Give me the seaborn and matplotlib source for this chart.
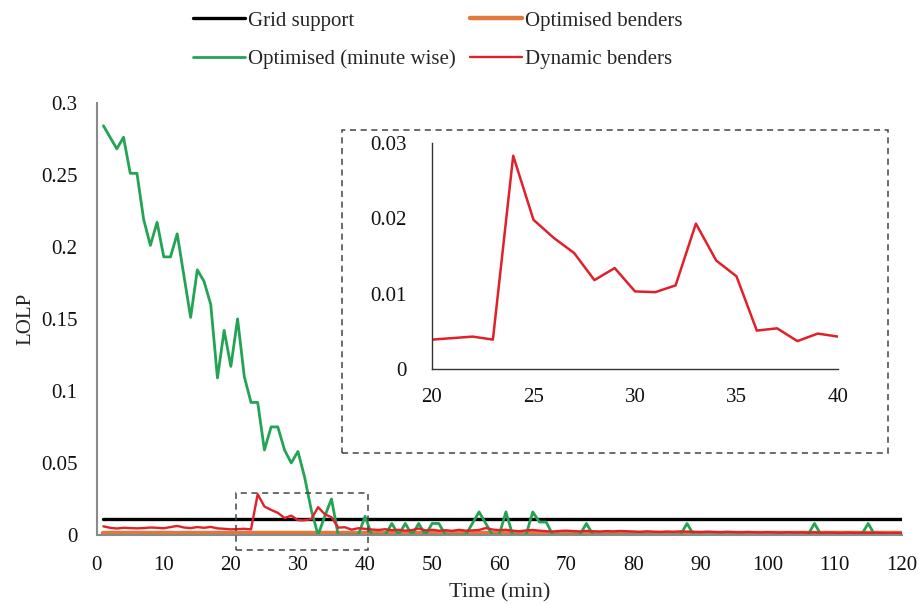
import numpy as np
import pandas as pd
import matplotlib
matplotlib.use("Agg")
import matplotlib.pyplot as plt
from matplotlib.patches import Rectangle
import seaborn as sns

# ---------------- data ----------------
minutes = list(range(1, 121))

grid_support = [0.011] * 120
optimised_benders = [0.0012] * 120

optimised_minute = [
    0.284, 0.276, 0.268, 0.276, 0.251, 0.251, 0.219, 0.201, 0.217, 0.193,
    0.193, 0.209, 0.180, 0.151, 0.184, 0.176, 0.160, 0.109, 0.142, 0.117,
    0.150, 0.110, 0.092, 0.092, 0.059, 0.075, 0.075, 0.059, 0.050, 0.058,
    0.040, 0.017, 0.000, 0.013, 0.025, 0.000, 0.000, 0.000, 0.000, 0.013,
    0.000, 0.000, 0.000, 0.008, 0.000, 0.008, 0.000, 0.008, 0.000, 0.008,
    0.008, 0.000, 0.000, 0.000, 0.000, 0.008, 0.016, 0.008, 0.000, 0.000,
    0.016, 0.000, 0.000, 0.000, 0.016, 0.009, 0.009, 0.000, 0.000, 0.000,
    0.000, 0.000, 0.008, 0.000, 0.000, 0.000, 0.000, 0.000, 0.000, 0.000,
    0.000, 0.000, 0.000, 0.000, 0.000, 0.000, 0.000, 0.008, 0.000, 0.000,
    0.000, 0.000, 0.000, 0.000, 0.000, 0.000, 0.000, 0.000, 0.000, 0.000,
    0.000, 0.000, 0.000, 0.000, 0.000, 0.000, 0.008, 0.000, 0.000, 0.000,
    0.000, 0.000, 0.000, 0.000, 0.008, 0.000, 0.000, 0.000, 0.000, 0.000,
]

dynamic_benders = [
    0.0060, 0.0050, 0.0045, 0.0050, 0.0048, 0.0046, 0.0048, 0.0052, 0.0050, 0.0047,
    0.0055, 0.0063, 0.0052, 0.0048, 0.0055, 0.0050, 0.0056, 0.0046, 0.0043, 0.0039,
    0.0041, 0.0043, 0.0039, 0.0283, 0.0198, 0.0174, 0.0154, 0.0118, 0.0134, 0.0103,
    0.0102, 0.0111, 0.0193, 0.0144, 0.0123, 0.0051, 0.0054, 0.0037, 0.0047, 0.0043,
    0.0038, 0.0035, 0.0040, 0.0033, 0.0036, 0.0030, 0.0034, 0.0045, 0.0032, 0.0036,
    0.0030, 0.0033, 0.0029, 0.0036, 0.0030, 0.0032, 0.0035, 0.0048, 0.0038, 0.0034,
    0.0036, 0.0030, 0.0026, 0.0032, 0.0035, 0.0030, 0.0026, 0.0024, 0.0028, 0.0030,
    0.0027, 0.0025, 0.0028, 0.0026, 0.0024, 0.0027, 0.0025, 0.0028, 0.0026, 0.0024,
    0.0022, 0.0025, 0.0023, 0.0021, 0.0024, 0.0022, 0.0025, 0.0023, 0.0022, 0.0020,
    0.0023, 0.0021, 0.0019, 0.0022, 0.0020, 0.0018, 0.0021, 0.0019, 0.0017, 0.0020,
    0.0018, 0.0016, 0.0019, 0.0017, 0.0018, 0.0016, 0.0018, 0.0015, 0.0017, 0.0016,
    0.0014, 0.0017, 0.0015, 0.0016, 0.0014, 0.0016, 0.0015, 0.0013, 0.0015, 0.0014,
]

series_names = ["Grid support", "Optimised benders", "Optimised (minute wise)", "Dynamic benders"]
x_ticks = [0, 10, 20, 30, 40, 50, 60, 70, 80, 90, 100, 110, 120]
y_ticks = [0, 0.05, 0.1, 0.15, 0.2, 0.25, 0.3]
y_tick_labels = ["0", "0.05", "0.1", "0.15", "0.2", "0.25", "0.3"]
inset_x_ticks = [20, 25, 30, 35, 40]
inset_y_ticks = [0, 0.01, 0.02, 0.03]
inset_y_labels = ["0", "0.01", "0.02", "0.03"]

colors = {
    "Grid support": "#000000",
    "Optimised benders": "#E2793A",
    "Optimised (minute wise)": "#23A455",
    "Dynamic benders": "#E0202A",
}
widths = {
    "Grid support": 2.4,
    "Optimised benders": 3.2,
    "Optimised (minute wise)": 2.0,
    "Dynamic benders": 1.7,
}

df = pd.DataFrame({
    "Time": minutes * 4,
    "LOLP": grid_support + optimised_benders + optimised_minute + dynamic_benders,
    "Series": sum([[n] * 120 for n in series_names], []),
})

# ---------------- style ----------------
sns.set_theme(style="white")
plt.rcParams["font.family"] = ["Liberation Serif", "DejaVu Serif"]

fig = plt.figure(figsize=(9.19, 6.05), dpi=100)
ax = fig.add_axes([96.7 / 919, 1 - 535 / 605, (901.7 - 96.7) / 919, (535 - 102.7) / 605])

for name in series_names:
    sub = df[df["Series"] == name]
    sns.lineplot(data=sub, x="Time", y="LOLP", ax=ax, color=colors[name],
                 linewidth=widths[name], label=name, estimator=None, sort=False)

ax.set_xlim(0, 120)
ax.set_ylim(0, 0.3)
ax.set_xticks(x_ticks)
ax.set_xticklabels([str(t) for t in x_ticks])
ax.set_yticks(y_ticks)
ax.set_yticklabels(y_tick_labels)
ax.tick_params(axis="both", length=0, labelsize=15, colors="#111111")
ax.tick_params(axis="y", pad=14)
ax.tick_params(axis="x", pad=15)
for s in ["top", "right"]:
    ax.spines[s].set_visible(False)
for s in ["left", "bottom"]:
    ax.spines[s].set_color("#8a8a8a")
    ax.spines[s].set_linewidth(1.5)
ax.set_xlabel("Time (min)", fontsize=16, labelpad=6)
ax.set_ylabel("LOLP", fontsize=15, labelpad=4)

# zoom box in main axes
ax.add_patch(Rectangle((20.7, -0.0104), 40.4 - 20.7, 0.0294 + 0.0104, fill=False,
                       edgecolor="#444444", linestyle=(0, (4, 3)), linewidth=1.1,
                       clip_on=False, zorder=5))

# legend
handles, labels = ax.get_legend_handles_labels()
hmap = dict(zip(labels, handles))
order = ["Grid support", "Optimised (minute wise)", "Optimised benders", "Dynamic benders"]
ax.get_legend().remove()
leg = fig.legend([hmap[o] for o in order], order, loc="upper left",
                 bbox_to_anchor=(193 / 919, 1 - 11 / 605), ncol=2, frameon=False,
                 fontsize=15, handlelength=2.5, handletextpad=0.15,
                 columnspacing=0.65, labelspacing=0.9, borderpad=0, borderaxespad=0)

# inset dashed frame
fig.patches.append(Rectangle((341.7 / 919, 1 - 453.3 / 605), (887.7 - 341.7) / 919,
                             (453.3 - 130) / 605, transform=fig.transFigure, fill=False,
                             edgecolor="#444444", linestyle=(0, (4, 3)), linewidth=1.1))

# inset axes
iax = fig.add_axes([432 / 919, 1 - 369 / 605, (838 - 432) / 919, (369 - 143) / 605])
sns.lineplot(x=minutes[19:40], y=dynamic_benders[19:40], ax=iax,
             color=colors["Dynamic benders"], linewidth=1.8, estimator=None, sort=False)
iax.set_xlim(20, 40)
iax.set_ylim(0, 0.03)
iax.set_xticks(inset_x_ticks)
iax.set_xticklabels([str(t) for t in inset_x_ticks])
iax.set_yticks(inset_y_ticks)
iax.set_yticklabels(inset_y_labels)
iax.tick_params(axis="both", length=0, labelsize=15, colors="#111111")
iax.tick_params(axis="y", pad=18)
iax.tick_params(axis="x", pad=14)
for s in ["top", "right"]:
    iax.spines[s].set_visible(False)
for s in ["left", "bottom"]:
    iax.spines[s].set_color("#333333")
    iax.spines[s].set_linewidth(1.0)
iax.set_xlabel("")
iax.set_ylabel("")
iax.patch.set_alpha(0)

fig.savefig("out.png", dpi=100)
